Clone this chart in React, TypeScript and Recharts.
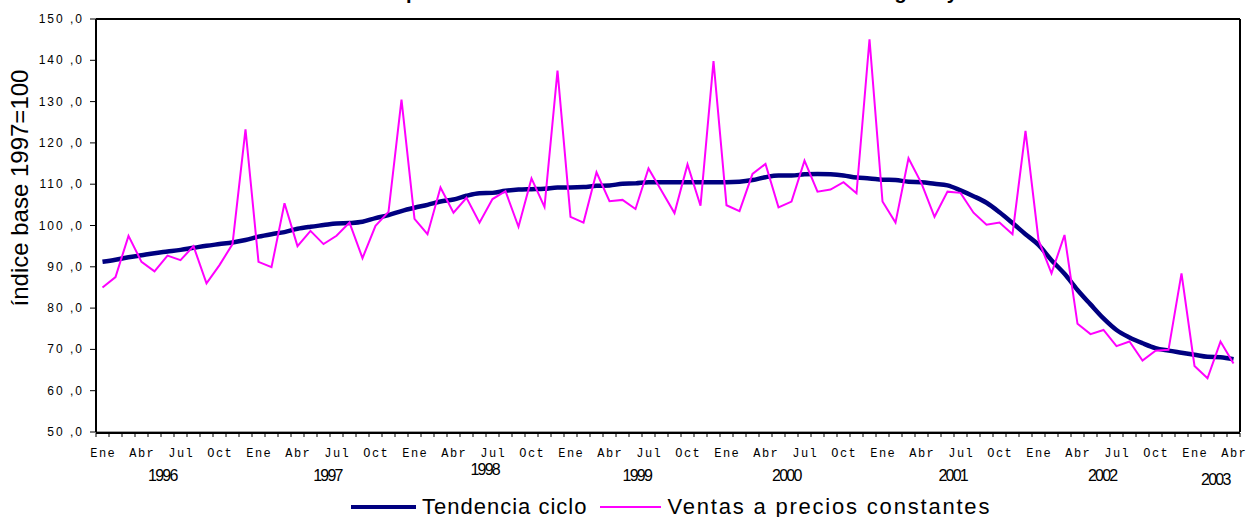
import React from 'react';
import { LineChart, Line, XAxis, YAxis, CartesianGrid, Legend } from 'recharts';

const monthNames = ['Ene', 'Feb', 'Mar', 'Abr', 'May', 'Jun', 'Jul', 'Ago', 'Sep', 'Oct', 'Nov', 'Dic'];

const tendencia = [
  91.2, 91.7, 92.3, 92.8, 93.3, 93.7, 94.1, 94.6, 95.1, 95.5, 95.9, 96.5,
  97.3, 97.9, 98.4, 99.2, 99.7, 100.1, 100.5, 100.6, 100.9, 101.8, 102.5, 103.5,
  104.3, 105.0, 105.8, 106.3, 107.2, 107.8, 107.9, 108.4, 108.7, 108.8, 108.9, 109.2,
  109.2, 109.3, 109.6, 109.7, 110.1, 110.2, 110.5, 110.5, 110.5, 110.5, 110.5, 110.5,
  110.5, 110.6, 111.0, 111.7, 112.1, 112.1, 112.4, 112.5, 112.4, 112.1, 111.6, 111.4,
  111.1, 111.0, 110.6, 110.5, 110.1, 109.7, 108.5, 107.1, 105.5, 103.2, 100.6, 97.9,
  95.3, 91.6, 88.3, 84.4, 80.9, 77.5, 74.7, 72.9, 71.5, 70.3, 69.7, 69.2,
  68.7, 68.2, 68.1, 67.6,
];

const ventas = [
  85.0, 87.5, 97.5, 91.2, 88.9, 92.7, 91.6, 95.0, 86.0, 90.4, 95.5, 123.3,
  91.2, 89.9, 105.4, 95.0, 98.7, 95.5, 97.5, 100.7, 92.1, 99.9, 103.3, 130.5,
  101.6, 97.9, 109.2, 103.1, 106.7, 100.7, 106.4, 108.3, 99.7, 111.4, 104.5, 137.5,
  102.1, 100.7, 112.9, 105.9, 106.2, 104.0, 113.8, 108.4, 103.0, 114.8, 104.8, 139.8,
  104.9, 103.5, 112.5, 114.9, 104.4, 105.8, 115.7, 108.2, 108.7, 110.5, 107.8, 145.1,
  105.8, 100.7, 116.3, 110.2, 102.1, 108.2, 107.9, 103.1, 100.2, 100.7, 97.9, 122.9,
  96.5, 88.4, 97.7, 76.2, 73.7, 74.7, 70.8, 71.9, 67.3, 69.7, 69.9, 88.4,
  66.0, 63.0, 71.9, 66.6,
];

const yearLabels = ['1996', '1997', '1998', '1999', '2000', '2001', '2002', '2003'];
const yearLabelAt = [4.6, 17.3, 29.4, 41.1, 52.6, 65.4, 76.9, 85.6];
const yearLabelShift = [0, 0, -6, 0, 0, 0, 0, 4];

const yTicks = [50, 60, 70, 80, 90, 100, 110, 120, 130, 140, 150];

const titleText = 'Índice de ventas a precios constantes. Índice base 1997=100. Serie original y tendencia ciclo';
const yAxisTitle = 'índice base 1997=100';

const data = ventas.map((v, i) => ({
  i,
  mes: monthNames[i % 12],
  tendencia: tendencia[i],
  ventas: v,
}));

const boundaryTicks = Array.from({ length: data.length + 1 }, (_, k) => k - 0.5);
const monthTicks = data.filter((d) => d.i % 3 === 0).map((d) => d.i);
const xDomain: [number, number] = [-0.5, data.length - 0.5];

const EmptyTick = () => <g />;

const MonthTick = (props: any) => {
  const { x, y, payload } = props;
  return (
    <text
      x={x + 0.75}
      y={y + 23}
      textAnchor="middle"
      style={{ fontFamily: 'Liberation Mono, DejaVu Sans Mono, monospace', fontSize: 12, letterSpacing: 1.5, fontWeight: 'normal' }}
      fill="#000"
    >
      {monthNames[Math.round(payload.value) % 12]}
    </text>
  );
};

const YearTick = (props: any) => {
  const { x, y, index } = props;
  return (
    <text
      x={x}
      y={y + 49 + yearLabelShift[index]}
      textAnchor="middle"
      style={{ fontFamily: 'Liberation Sans, Arial, sans-serif', fontSize: 16, letterSpacing: -1.8 }}
      fill="#000"
    >
      {yearLabels[index]}
    </text>
  );
};

const YTick = (props: any) => {
  const { x, y, payload } = props;
  return (
    <text
      x={x}
      y={y}
      dy={4}
      textAnchor="end"
      style={{ fontFamily: 'Liberation Sans, Arial, sans-serif', fontSize: 12, letterSpacing: 2 }}
      fill="#000"
    >
      {`${payload.value} ,0`}
    </text>
  );
};

const YTitle = () => {
  const cx = 19;
  const cy = 188;
  return (
    <text
      x={cx}
      y={cy}
      transform={`rotate(-90, ${cx}, ${cy})`}
      textAnchor="middle"
      dominantBaseline="central"
      style={{ fontFamily: 'Liberation Sans, Arial, sans-serif', fontSize: 24 }}
      fill="#000"
    >
      {yAxisTitle}
    </text>
  );
};

const LegendContent = (props: any) => {
  const items = props.payload || [];
  return (
    <div
      style={{
        display: 'flex',
        alignItems: 'center',
        marginLeft: 351,
        fontFamily: '"Liberation Sans", Arial, sans-serif',
        fontSize: 22,
        lineHeight: '22px',
        color: '#000',
        whiteSpace: 'nowrap',
      }}
    >
      {items.map((it: any, k: number) => (
        <React.Fragment key={k}>
          <svg width={k === 0 ? 65 : 61} height={10} style={{ marginLeft: k === 0 ? 0 : 13 }}>
            <line
              x1={0}
              y1={5}
              x2={k === 0 ? 65 : 61}
              y2={5}
              stroke={it.color}
              strokeWidth={k === 0 ? 4 : 2}
            />
          </svg>
          <span style={{ marginLeft: 6, letterSpacing: k === 0 ? 1 : 1.8 }}>{it.value}</span>
        </React.Fragment>
      ))}
    </div>
  );
};

export default function App() {
  return (
    <div style={{ position: 'absolute', left: 0, top: 0, width: 1250, height: 517, background: '#fff', overflow: 'hidden' }}>
      <div
        style={{
          position: 'absolute',
          left: 0,
          top: -18,
          width: 1336,
          textAlign: 'center',
          fontFamily: '"Liberation Sans", Arial, sans-serif',
          fontWeight: 'bold',
          fontSize: 20,
          lineHeight: '20px',
          whiteSpace: 'nowrap',
          color: '#000',
        }}
      >
        {titleText}
      </div>
      <LineChart
        width={1250}
        height={517}
        data={data}
        margin={{ top: 18, right: 9, left: 0, bottom: 60 }}
        style={{ position: 'absolute', left: 0, top: 0 }}
      >
        <CartesianGrid vertical={false} stroke="#808080" strokeWidth={1.5} />
        <XAxis
          xAxisId="bnd"
          dataKey="i"
          type="number"
          domain={xDomain}
          ticks={boundaryTicks}
          interval={0}
          tick={<EmptyTick />}
          tickSize={4}
          height={1}
          axisLine={{ stroke: '#000', strokeWidth: 2 }}
          tickLine={{ stroke: '#000', strokeWidth: 1 }}
        />
        <XAxis
          xAxisId="mes"
          dataKey="i"
          type="number"
          domain={xDomain}
          ticks={monthTicks}
          interval={0}
          tick={<MonthTick />}
          tickSize={0}
          tickMargin={0}
          height={1}
          axisLine={false}
          tickLine={false}
        />
        <XAxis
          xAxisId="anio"
          dataKey="i"
          type="number"
          domain={xDomain}
          ticks={yearLabelAt}
          interval={0}
          tick={<YearTick />}
          tickSize={0}
          tickMargin={0}
          height={1}
          axisLine={false}
          tickLine={false}
        />
        <XAxis
          xAxisId="top"
          orientation="top"
          dataKey="i"
          type="number"
          domain={xDomain}
          tick={false}
          tickLine={false}
          height={1}
          axisLine={{ stroke: '#000', strokeWidth: 2 }}
        />
        <YAxis
          yAxisId="left"
          domain={[50, 150]}
          ticks={yTicks}
          interval={0}
          width={96}
          tickSize={6}
          tickMargin={6}
          tick={<YTick />}
          axisLine={{ stroke: '#000', strokeWidth: 2 }}
          tickLine={{ stroke: '#000', strokeWidth: 1 }}
          label={<YTitle />}
        />
        <YAxis
          yAxisId="right"
          orientation="right"
          domain={[50, 150]}
          width={1}
          tick={false}
          tickLine={false}
          axisLine={{ stroke: '#000', strokeWidth: 2 }}
        />
        <Legend
          verticalAlign="bottom"
          content={<LegendContent />}
          wrapperStyle={{ position: 'absolute', left: 0, top: 496, width: 1250, height: 22, bottom: 'auto' }}
        />
        <Line
          xAxisId="bnd"
          yAxisId="left"
          type="monotone"
          dataKey="tendencia"
          name="Tendencia ciclo"
          stroke="#000080"
          strokeWidth={4.5}
          dot={false}
          isAnimationActive={false}
        />
        <Line
          xAxisId="bnd"
          yAxisId="left"
          type="linear"
          dataKey="ventas"
          name="Ventas a precios constantes"
          stroke="#FF00FF"
          strokeWidth={2}
          dot={false}
          isAnimationActive={false}
        />
      </LineChart>
    </div>
  );
}
